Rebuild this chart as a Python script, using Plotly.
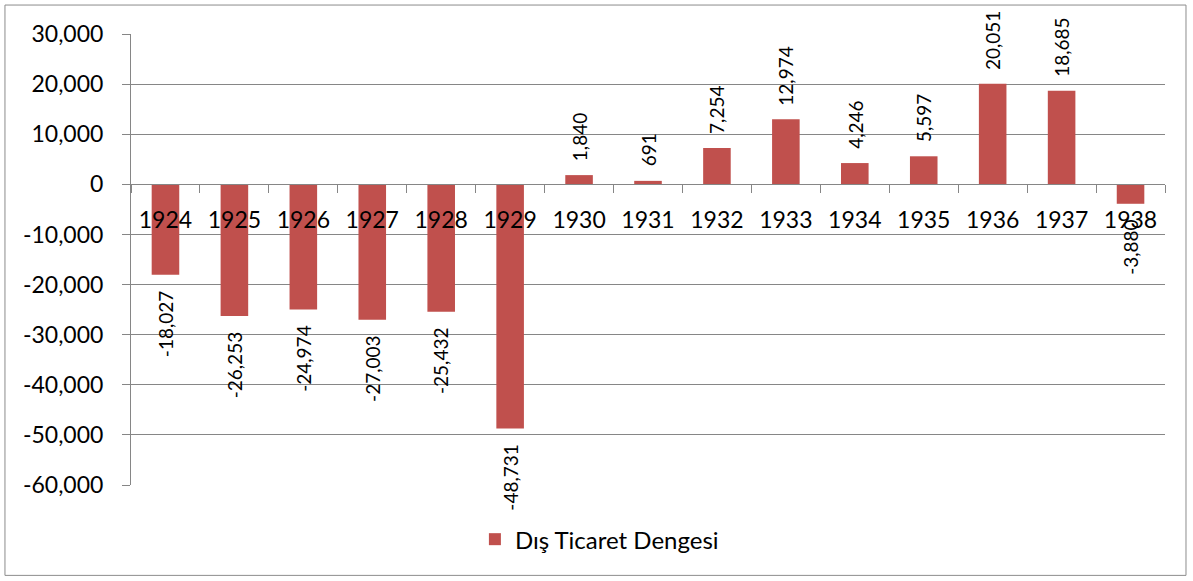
import plotly.graph_objects as go

years = ["1924", "1925", "1926", "1927", "1928", "1929", "1930", "1931",
         "1932", "1933", "1934", "1935", "1936", "1937", "1938"]
balance = [-18027, -26253, -24974, -27003, -25432, -48731, 1840, 691,
           7254, 12974, 4246, 5597, 20051, 18685, -3880]
series_name = "Dış Ticaret Dengesi"
y_ticks = [30000, 20000, 10000, 0, -10000, -20000, -30000, -40000, -50000, -60000]
y_ticktext = [f"{v:,}" for v in y_ticks]

BAR = "#C0504D"
GRID = "#868686"
FONT = "Lato"

fig = go.Figure()
fig.add_trace(go.Bar(
    x=list(range(len(years))), y=balance, name=series_name,
    marker=dict(color=BAR, line=dict(width=0)),
    width=0.4, showlegend=True,
))

for i, v in enumerate(balance):
    fig.add_annotation(
        x=i, y=v, text=f"{v:,}", showarrow=False, textangle=-90,
        yanchor="bottom" if v >= 0 else "top",
        yshift=12 if v >= 0 else -14,
        font=dict(family=FONT, size=19, color="#000000"),
    )

fig.update_layout(
    width=1193, height=581,
    margin=dict(l=131, r=28, t=34, b=95.5),
    paper_bgcolor="white", plot_bgcolor="white",
    font=dict(family=FONT, color="#000000"),
    bargap=0.6,
    xaxis=dict(
        range=[-0.5, 14.5],
        tickvals=list(range(len(years))), ticktext=years,
        anchor="free", position=2/3,
        showline=True, linecolor=GRID, linewidth=1,
        ticks="", showgrid=False, zeroline=False,
        tickfont=dict(family=FONT, size=23, color="#000000"),
        ticklabelstandoff=15,
    ),
    xaxis2=dict(
        range=[-0.5, 14.5], overlaying="x",
        anchor="free", position=2/3,
        tickvals=[i - 0.5 for i in range(len(years) + 1)],
        showticklabels=False, ticks="outside", ticklen=8, tickcolor=GRID,
        showgrid=False, zeroline=False, showline=False,
    ),
    yaxis=dict(
        range=[-60000, 30000], tickvals=y_ticks, ticktext=y_ticktext,
        showline=True, linecolor=GRID, linewidth=1,
        ticks="outside", ticklen=8, tickcolor=GRID,
        showgrid=True, gridcolor=GRID, gridwidth=1,
        zeroline=True, zerolinecolor=GRID, zerolinewidth=1,
        tickfont=dict(family=FONT, size=23, color="#000000"),
        ticklabelstandoff=14,
    ),
    legend=dict(
        orientation="h", x=0.453, xanchor="center", y=-0.121, yanchor="middle",
        font=dict(family=FONT, size=24, color="#000000"),
    ),
    shapes=[dict(
        type="rect", xref="paper", yref="paper",
        x0=-0.1219, x1=1.0203, y0=-0.2004, y1=1.0642,
        line=dict(color="#8c8c8c", width=1), fillcolor="rgba(0,0,0,0)",
        layer="below",
    )],
)
# invisible trace to activate the tick-mark axis
fig.add_trace(go.Scatter(x=[0], y=[0], xaxis="x2", mode="none",
                         showlegend=False, hoverinfo="skip"))

fig.write_html("out.html", config={"displayModeBar": False},
               post_script="document.body.style.margin='0';")
